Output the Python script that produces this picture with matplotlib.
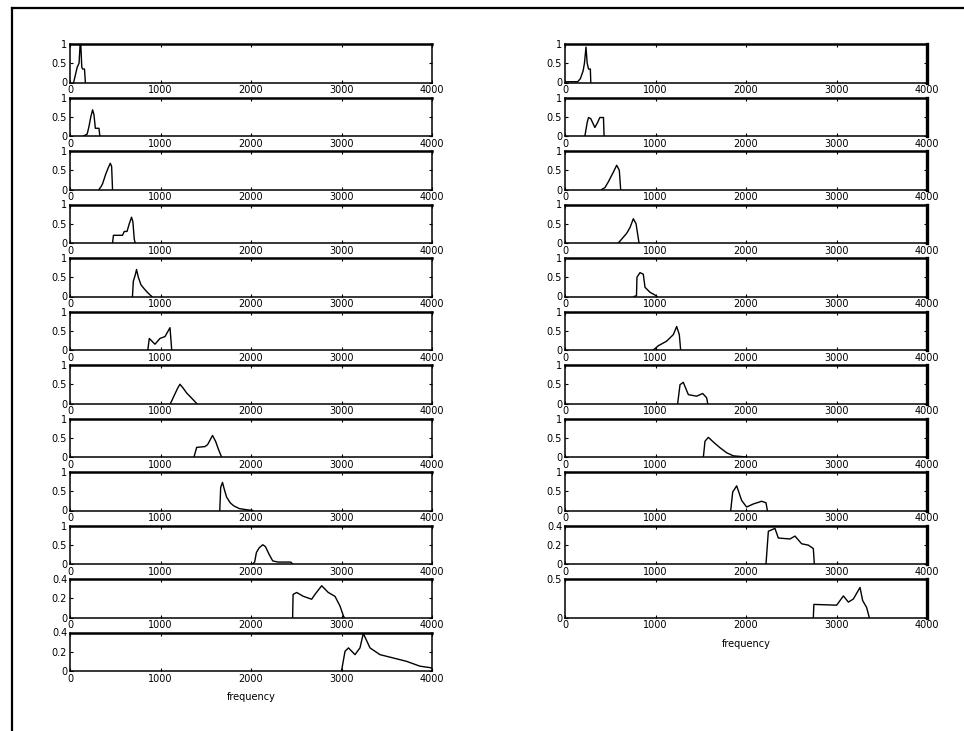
import matplotlib
matplotlib.use("Agg")
import matplotlib.pyplot as plt
from matplotlib.lines import Line2D

# filter bank responses (frequency in Hz, gain)
left_freqs = [
  [40, 60, 80, 100, 112, 120, 130, 140, 160, 170],
  [150, 190, 210, 230, 250, 265, 280, 320, 330],
  [320, 345, 360, 395, 420, 445, 460, 470],
  [470, 480, 580, 600, 630, 655, 680, 695, 710, 720],
  [690, 700, 720, 735, 755, 785, 820, 850, 880, 905],
  [860, 876, 939, 994, 1050, 1105, 1124],
  [1110, 1150, 1190, 1215, 1250, 1290, 1340, 1380, 1400],
  [1370, 1400, 1490, 1520, 1550, 1575, 1610, 1640, 1675],
  [1655, 1665, 1685, 1705, 1730, 1770, 1810, 1870, 1950, 2020],
  [2020, 2040, 2060, 2090, 2130, 2160, 2200, 2240, 2300, 2440, 2460],
  [2460, 2465, 2505, 2578, 2670, 2707, 2781, 2854, 2928, 2983, 3020, 3030],
  [3000, 3039, 3077, 3149, 3204, 3241, 3315, 3425, 3573, 3720, 3867, 3978, 4000],
]
left_gains = [
  [0, 0.2, 0.4, 0.5, 1.0, 0.95, 0.4, 0.35, 0.35, 0],
  [0, 0.05, 0.25, 0.5, 0.68, 0.55, 0.2, 0.2, 0],
  [0, 0.08, 0.15, 0.4, 0.55, 0.68, 0.6, 0],
  [0, 0.2, 0.2, 0.3, 0.3, 0.5, 0.67, 0.55, 0.1, 0],
  [0, 0.4, 0.55, 0.7, 0.5, 0.3, 0.2, 0.12, 0.05, 0],
  [0, 0.3, 0.15, 0.3, 0.35, 0.58, 0],
  [0, 0.2, 0.4, 0.5, 0.4, 0.27, 0.15, 0.05, 0],
  [0, 0.25, 0.27, 0.32, 0.45, 0.56, 0.4, 0.2, 0],
  [0, 0.6, 0.73, 0.55, 0.35, 0.2, 0.12, 0.05, 0.02, 0],
  [0, 0.05, 0.3, 0.42, 0.5, 0.45, 0.25, 0.08, 0.05, 0.05, 0],
  [0, 0.24, 0.26, 0.22, 0.19, 0.24, 0.33, 0.26, 0.22, 0.12, 0.02, 0],
  [0, 0.205, 0.24, 0.17, 0.24, 0.39, 0.24, 0.17, 0.135, 0.1, 0.05, 0.035, 0.03],
]
right_freqs = [
  [0, 20, 140, 170, 200, 215, 232, 245, 260, 280, 285],
  [220, 245, 260, 285, 330, 360, 385, 425, 432],
  [405, 442, 479, 534, 571, 600, 615],
  [589, 626, 681, 718, 755, 785, 818],
  [762, 790, 795, 829, 865, 884, 939, 1000, 1015],
  [976, 1031, 1123, 1197, 1234, 1263, 1278],
  [1245, 1271, 1307, 1363, 1455, 1521, 1565, 1577],
  [1529, 1547, 1584, 1639, 1713, 1786, 1860, 2007],
  [1831, 1853, 1897, 1952, 2007, 2081, 2173, 2221, 2236],
  [2221, 2247, 2320, 2357, 2486, 2541, 2615, 2689, 2744, 2755],
  [2744, 2750, 3002, 3076, 3131, 3186, 3260, 3289, 3333, 3362],
]
right_gains = [
  [0, 0.02, 0.02, 0.1, 0.3, 0.5, 0.92, 0.5, 0.35, 0.35, 0],
  [0, 0.35, 0.48, 0.45, 0.22, 0.35, 0.48, 0.48, 0],
  [0, 0.05, 0.2, 0.45, 0.63, 0.5, 0],
  [0, 0.1, 0.25, 0.4, 0.63, 0.5, 0],
  [0, 0.02, 0.5, 0.62, 0.58, 0.24, 0.11, 0.03, 0],
  [0, 0.11, 0.23, 0.4, 0.61, 0.4, 0],
  [0, 0.49, 0.55, 0.23, 0.19, 0.26, 0.15, 0],
  [0, 0.41, 0.51, 0.39, 0.24, 0.11, 0.03, 0],
  [0, 0.48, 0.64, 0.26, 0.09, 0.17, 0.24, 0.2, 0],
  [0, 0.34, 0.37, 0.27, 0.26, 0.29, 0.21, 0.196, 0.16, 0],
  [0, 0.17, 0.16, 0.28, 0.2, 0.24, 0.39, 0.22, 0.13, 0],
]
left_ytop = [1, 1, 1, 1, 1, 1, 1, 1, 1, 1, 0.4, 0.4]
right_ytop = [1, 1, 1, 1, 1, 1, 1, 1, 1, 0.4, 0.5]
xticks = [0, 1000, 2000, 3000, 4000]
xlabel = "frequency"

W, H = 964, 731
fig = plt.figure(figsize=(W / 100, H / 100), dpi=100)
fig.patch.set_facecolor("white")

# scan frame (left and top edges)
fig.add_artist(Line2D([12 / W, 12 / W], [0, 1 - 8 / H], color="black", lw=1.6))
fig.add_artist(Line2D([12 / W, 1], [1 - 8 / H, 1 - 8 / H], color="black", lw=1.6))

def yticks_for(top):
  if top == 1:
    return [0, 0.5, 1], ["0", "0.5", "1"]
  if top == 0.4:
    return [0, 0.2, 0.4], ["0", "0.2", "0.4"]
  return [0, 0.5], ["0", "0.5"]

def draw_column(x0, freqs, gains, ytops, thick_right):
  n = len(freqs)
  for i in range(n):
    top = 44 + 53.5 * i
    ax = fig.add_axes([x0 / W, 1 - (top + 38.5) / H, 362 / W, 38.5 / H])
    ax.plot(freqs[i], gains[i], color="black", lw=1.0)
    ax.set_xlim(0, 4000)
    ax.set_ylim(0, ytops[i])
    ax.set_xticks(xticks)
    ax.set_xticklabels([str(t) for t in xticks])
    yt, yl = yticks_for(ytops[i])
    ax.set_yticks(yt)
    ax.set_yticklabels(yl)
    ax.tick_params(direction="in", length=2.5, width=0.8, labelsize=7,
                   pad=2, top=True, right=True)
    for s in ax.spines.values():
      s.set_linewidth(1.1)
    ax.spines["top"].set_linewidth(1.8)
    if thick_right:
      ax.spines["right"].set_linewidth(2.4)
    if i == n - 1:
      ax.set_xlabel(xlabel, fontsize=7, labelpad=6)

draw_column(70, left_freqs, left_gains, left_ytop, False)
draw_column(565, right_freqs, right_gains, right_ytop, True)

plt.savefig("out.png", dpi=100)
